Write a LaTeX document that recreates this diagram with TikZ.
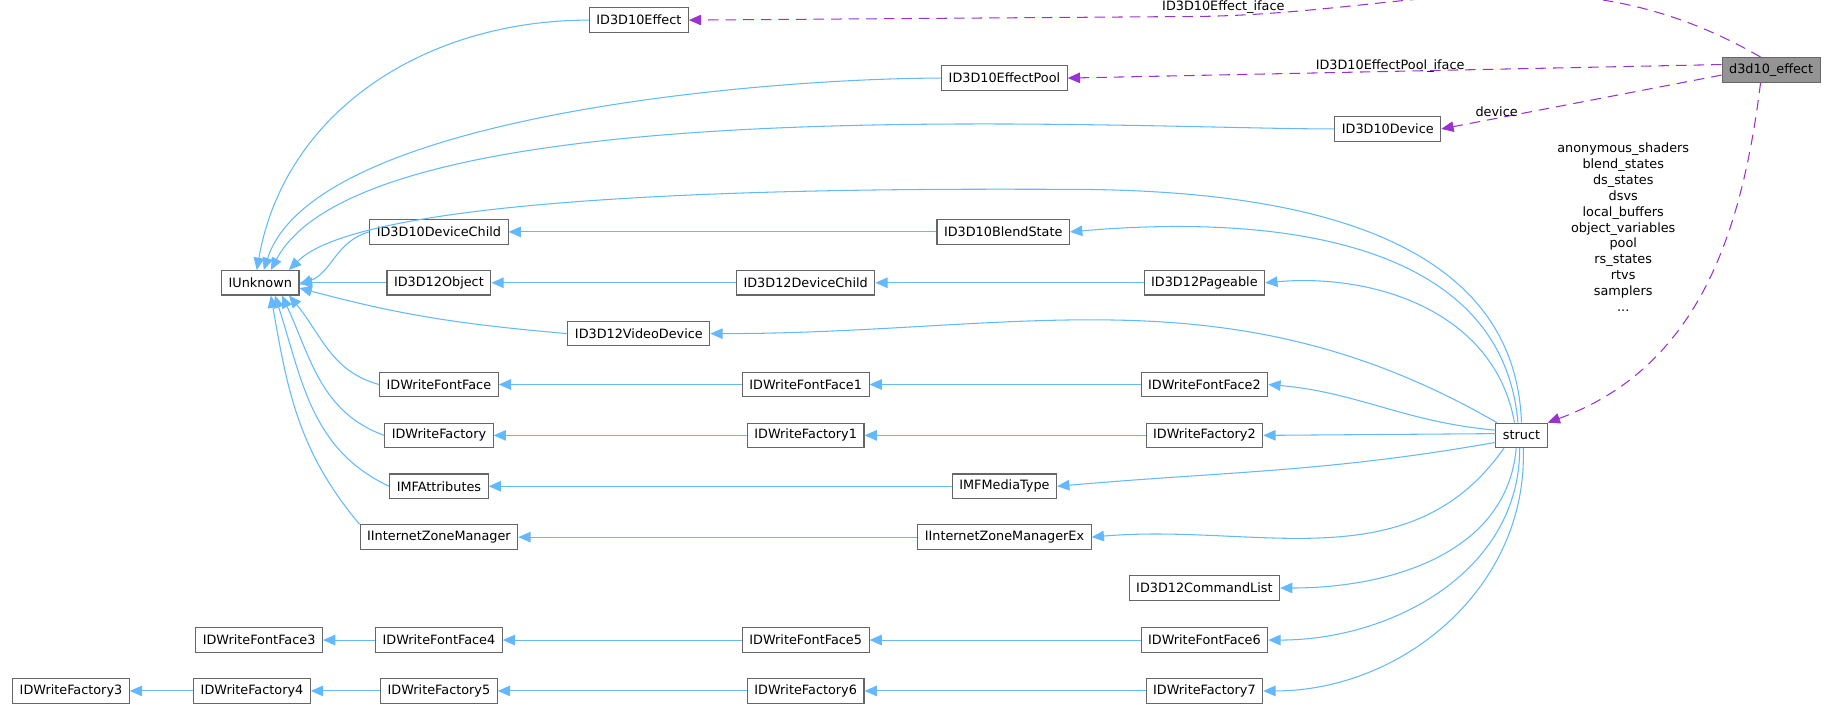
\documentclass[tikz,border=0pt]{standalone}
\usepackage{fontspec}
\setmainfont{DejaVu Sans}
\usetikzlibrary{arrows.meta}
\definecolor{edgeblue}{HTML}{63B8FF}
\definecolor{edgepurple}{HTML}{9A32CD}
\definecolor{boxgray}{HTML}{666666}
\tikzset{
  cls/.style={draw=boxgray, fill=white, line width=0.6pt, minimum height=0.49cm,
    inner xsep=4pt, font=\fontsize{7.3}{9}\selectfont},
  sel/.style={cls, fill=black!42},
  inh/.style={draw=edgeblue, line width=0.6pt, -{Triangle[length=7pt,width=6pt,fill=edgeblue]}},
  usage/.style={draw=edgepurple, line width=0.6pt, dash pattern=on 6pt off 4pt,
    -{Triangle[length=7pt,width=6pt,fill=edgepurple]}},
  lbl/.style={font=\fontsize{7.3}{9}\selectfont, align=center, inner sep=1pt},
}
\begin{document}
\begin{tikzpicture}[x=0.02366cm, y=-0.02366cm]
\useasboundingbox (0,4) rectangle (1551,600);
% classes
\node (effect)[cls] at (540,21) {ID3D10Effect};
\node (pool)[cls] at (849,70) {ID3D10EffectPool};
\node (device)[cls] at (1173,113) {ID3D10Device};
\node (main)[sel] at (1497,63) {d3d10\_effect};
\node (unknown)[cls] at (220,243) {IUnknown};
\node (devchild)[cls] at (371,200) {ID3D10DeviceChild};
\node (blend)[cls] at (848,200) {ID3D10BlendState};
\node (object)[cls] at (371,243) {ID3D12Object};
\node (devchild12)[cls] at (681,243) {ID3D12DeviceChild};
\node (pageable)[cls] at (1018,243) {ID3D12Pageable};
\node (video)[cls] at (540,286) {ID3D12VideoDevice};
\node (ff)[cls] at (371,329) {IDWriteFontFace};
\node (ff1)[cls] at (681,329) {IDWriteFontFace1};
\node (ff2)[cls] at (1018,329) {IDWriteFontFace2};
\node (fac)[cls] at (371,372) {IDWriteFactory};
\node (fac1)[cls] at (681,372) {IDWriteFactory1};
\node (fac2)[cls] at (1018,372) {IDWriteFactory2};
\node (mfattr)[cls] at (371,415) {IMFAttributes};
\node (mftype)[cls] at (849,415) {IMFMediaType};
\node (izm)[cls] at (371,458) {IInternetZoneManager};
\node (izmex)[cls] at (849,458) {IInternetZoneManagerEx};
\node (struct)[cls] at (1286,372) {struct};
\node (cmdlist)[cls] at (1018,501) {ID3D12CommandList};
\node (ff3)[cls] at (219,545) {IDWriteFontFace3};
\node (ff4)[cls] at (371,545) {IDWriteFontFace4};
\node (ff5)[cls] at (681,545) {IDWriteFontFace5};
\node (ff6)[cls] at (1018,545) {IDWriteFontFace6};
\node (fac3)[cls] at (60,588) {IDWriteFactory3};
\node (fac4)[cls] at (213,588) {IDWriteFactory4};
\node (fac5)[cls] at (371,588) {IDWriteFactory5};
\node (fac6)[cls] at (681,588) {IDWriteFactory6};
\node (fac7)[cls] at (1018,588) {IDWriteFactory7};
\coordinate (top) at (900,164);
\coordinate (toppurple) at (1000,18);
% IUnknown fan
\draw[inh] (effect.west) to[out=180,in=80] ([xshift=-2pt]unknown.north);
\draw[inh] (pool.west) to[out=180,in=72,looseness=0.6] ([xshift=2pt]unknown.north);
\draw[inh] (device.west) to[out=180,in=62,looseness=0.5] ([xshift=6pt]unknown.north);
\draw[inh] (struct.north) to[out=92,in=0] (top) to[out=180,in=45,looseness=0.4] ([xshift=-6pt]unknown.north east);
\draw[inh] (devchild.west) to[out=195,in=20] ([yshift=-1pt]unknown.east);
\draw[inh] (object.west) -- (unknown.east);
\draw[inh] (video.west) to[out=175,in=-15] ([yshift=-3pt]unknown.east);
\draw[inh] (ff.west) to[out=165,in=-50] ([xshift=-6pt]unknown.south east);
\draw[inh] (fac.west) to[out=160,in=-65] ([xshift=-10pt]unknown.south east);
\draw[inh] (mfattr.west) to[out=155,in=-72] ([xshift=-14pt]unknown.south east);
\draw[inh] (izm.north west) to[out=130,in=-80] ([xshift=6pt]unknown.south);
% chains
\draw[inh] (blend) -- (devchild);
\draw[inh] (devchild12) -- (object);
\draw[inh] (pageable) -- (devchild12);
\draw[inh] (ff1) -- (ff);
\draw[inh] (ff2) -- (ff1);
\draw[inh] (fac1) -- (fac);
\draw[inh] (fac2) -- (fac1);
\draw[inh] (mftype) -- (mfattr);
\draw[inh] (izmex) -- (izm);
\draw[inh] (ff4) -- (ff3);
\draw[inh] (ff5) -- (ff4);
\draw[inh] (ff6) -- (ff5);
\draw[inh] (fac4) -- (fac3);
\draw[inh] (fac5) -- (fac4);
\draw[inh] (fac6) -- (fac5);
\draw[inh] (fac7) -- (fac6);
% struct fan
\draw[inh] ([xshift=-2pt]struct.north) to[out=95,in=5] (blend.east);
\draw[inh] ([xshift=-4pt]struct.north) to[out=100,in=5] (pageable.east);
\draw[inh] ([xshift=-14pt]struct.north) to[out=150,in=0] (video.east);
\draw[inh] ([yshift=3pt]struct.west) to[out=175,in=-5] (ff2.east);
\draw[inh] ([yshift=1pt]struct.west) -- (fac2.east);
\draw[inh] ([yshift=-4pt]struct.west) to[out=190,in=5] (mftype.east);
\draw[inh] ([xshift=-10pt]struct.south) to[out=235,in=5] (izmex.east);
\draw[inh] ([xshift=-3pt]struct.south) to[out=-95,in=0] (cmdlist.east);
\draw[inh] ([xshift=-1pt]struct.south) to[out=-90,in=0] (ff6.east);
\draw[inh] ([xshift=1pt]struct.south) to[out=-88,in=0] (fac7.east);
% members
\draw[usage] ([xshift=-6pt]main.north) to[out=150,in=0] (toppurple) -- (effect.east);
\node (efflbl)[lbl] at (1034,10) {ID3D10Effect\_iface};
\draw[usage] ([yshift=3pt]main.west) -- (pool.east);
\node (poollbl)[lbl, above] at (1175,67) {ID3D10EffectPool\_iface};
\draw[usage] ([yshift=-3pt]main.west) -- (device.east);
\node (devlbl)[lbl, above] at (1265,104) {device};
\draw[usage] ([xshift=-6pt]main.south) to[out=-97,in=20] (struct.north east);
\node (members)[lbl] at (1372,196) {anonymous\_shaders\\blend\_states\\ds\_states\\dsvs\\local\_buffers\\object\_variables\\pool\\rs\_states\\rtvs\\samplers\\...};
\end{tikzpicture}
\end{document}
